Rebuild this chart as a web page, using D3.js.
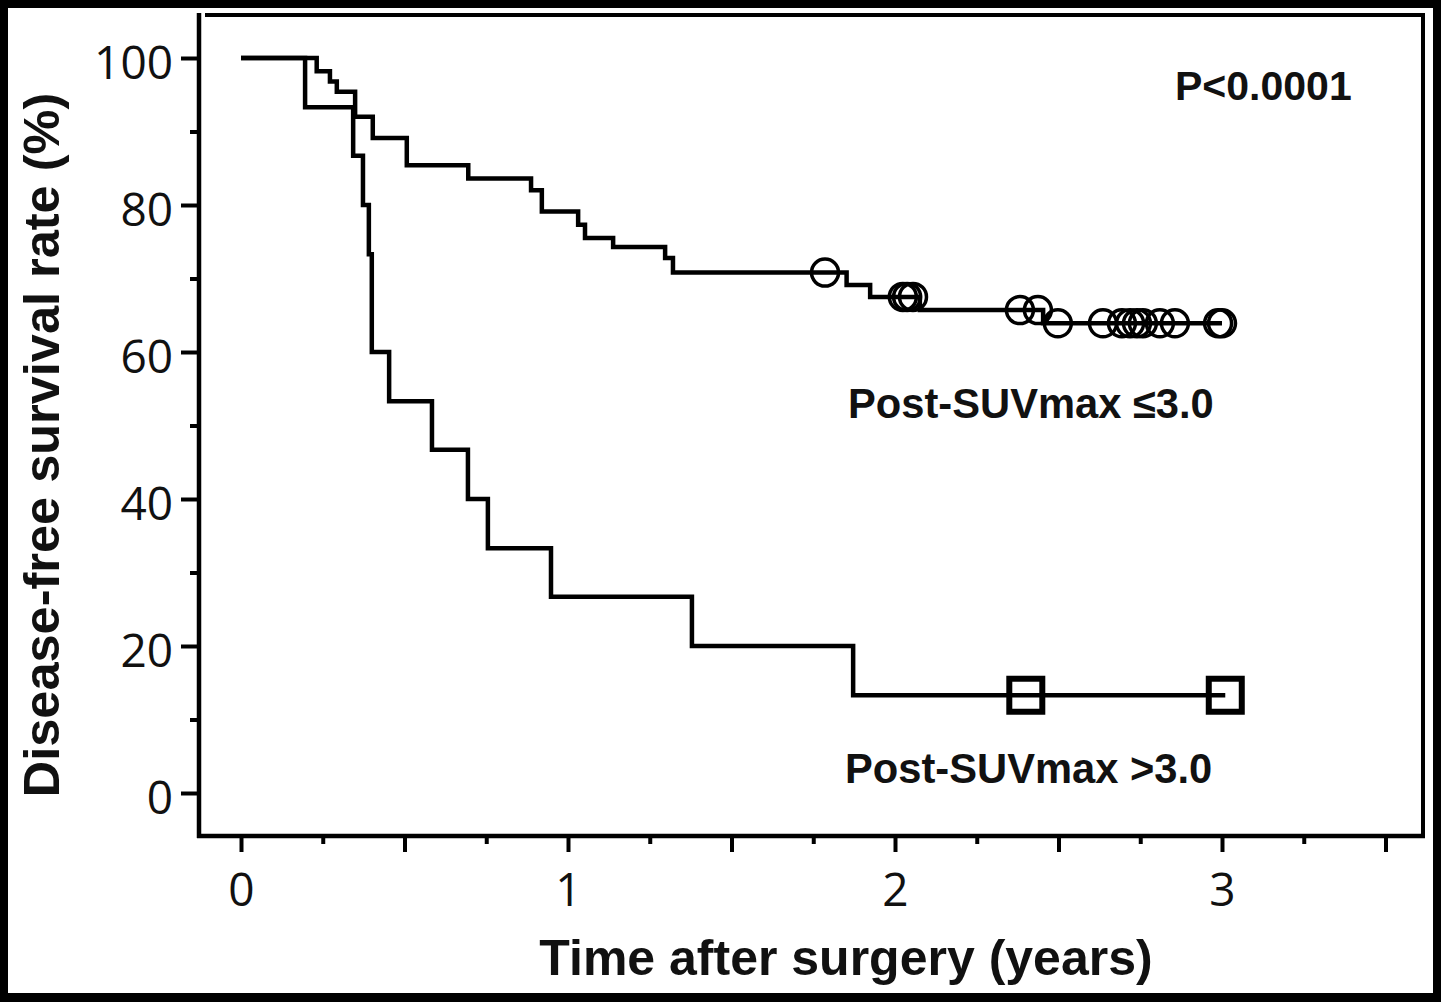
<!DOCTYPE html>
<html>
<head>
<meta charset="utf-8">
<script src="https://cdn.jsdelivr.net/npm/d3@7/dist/d3.min.js"></script>
<style>
  html, body { margin: 0; padding: 0; background: #000; }
  svg { display: block; }
</style>
</head>
<body>
<svg id="chart" width="1441" height="1002"></svg>
<script>
// ---- Data ----
// Post-SUVmax <= 3.0 : event times (years) and survival after each event (%)
const lowGroupLabel = "Post-SUVmax ≤3.0";
const upTimes = [0.2315, 0.272, 0.293, 0.349, 0.403, 0.507, 0.695, 0.887, 0.920, 1.031, 1.052, 1.138, 1.297, 1.321, 1.852, 1.924, 2.076, 2.453];
const upSurv  = [98.2, 96.8, 95.4, 92.0, 89.1, 85.4, 83.6, 82.0, 79.1, 77.3, 75.5, 74.3, 72.8, 70.8, 69.1, 67.5, 65.7, 63.9];
const upCensor = [1.786, 2.024, 2.037, 2.055, 2.382, 2.437, 2.498, 2.636, 2.694, 2.719, 2.740, 2.758, 2.810, 2.856, 2.988, 3.000];

// Post-SUVmax > 3.0
const highGroupLabel = "Post-SUVmax >3.0";
const hiTimes = [0.196, 0.343, 0.373, 0.391, 0.400, 0.453, 0.584, 0.694, 0.755, 0.948, 1.379, 1.872];
const hiSurv  = [93.3, 86.7, 80.0, 73.3, 60.0, 53.3, 46.7, 40.0, 33.3, 26.7, 20.0, 13.3];
const hiCensor = [2.40, 3.01];

const xMajorTicks = [0, 0.5, 1, 1.5, 2, 2.5, 3, 3.5];
const xMinorTicks = [0.25, 0.75, 1.25, 1.75, 2.25, 2.75, 3.25];
const xLabelTicks = [0, 1, 2, 3];
const yMajorTicks = [0, 20, 40, 60, 80, 100];
const yMinorTicks = [10, 30, 50, 70, 90];
const pValueText = "P<0.0001";
const xTitle = "Time after surgery (years)";
const yTitle = "Disease-free survival rate (%)";

// ---- Layout ----
const svg = d3.select("#chart");
svg.append("rect").attr("x", 8).attr("y", 8).attr("width", 1425).attr("height", 985).attr("fill", "#fff");

const x = d3.scaleLinear().domain([0, 3]).range([241, 1222]);
const y = d3.scaleLinear().domain([0, 100]).range([793, 58]);

const frameL = 199, frameR = 1423, frameT = 15, frameB = 836;

// Frame
const frame = svg.append("g").attr("stroke", "#000").attr("stroke-width", 4.5).attr("fill", "none");
frame.append("line").attr("x1", frameL).attr("x2", frameL).attr("y1", frameT - 2).attr("y2", frameB + 2);
frame.append("line").attr("x1", frameL - 2).attr("x2", frameR + 2).attr("y1", frameB).attr("y2", frameB);
frame.append("line").attr("x1", frameL + 6).attr("x2", frameR + 2).attr("y1", frameT).attr("y2", frameT).attr("stroke-width", 4);
frame.append("line").attr("x1", frameR).attr("x2", frameR).attr("y1", frameT - 2).attr("y2", frameB + 2).attr("stroke-width", 4);

const tickFont = "'Open Sans', 'Noto Sans', sans-serif";
const boldFont = "'Liberation Sans', Arial, sans-serif";

// X axis major ticks
const xMaj = svg.append("g").attr("transform", `translate(0,${frameB})`)
  .call(d3.axisBottom(x).tickValues(xMajorTicks).tickSize(16).tickSizeOuter(0)
    .tickFormat(d => xLabelTicks.includes(d) ? d3.format("d")(d) : ""));
xMaj.select(".domain").remove();
xMaj.selectAll(".tick line").attr("stroke", "#000").attr("stroke-width", 4);
xMaj.selectAll(".tick text").attr("y", 70).attr("dy", 0)
  .attr("font-family", tickFont).attr("font-size", 46).attr("fill", "#111");

const xMin = svg.append("g").attr("transform", `translate(0,${frameB})`)
  .call(d3.axisBottom(x).tickValues(xMinorTicks).tickSize(8).tickFormat(""));
xMin.select(".domain").remove();
xMin.selectAll(".tick line").attr("stroke", "#000").attr("stroke-width", 4);

// Y axis
const yMaj = svg.append("g").attr("transform", `translate(${frameL},0)`)
  .call(d3.axisLeft(y).tickValues(yMajorTicks).tickSize(18).tickSizeOuter(0).tickFormat(d3.format("d")));
yMaj.select(".domain").remove();
yMaj.selectAll(".tick line").attr("stroke", "#000").attr("stroke-width", 4);
yMaj.selectAll(".tick text").attr("x", -26).attr("dy", "0.45em")
  .attr("font-family", tickFont).attr("font-size", 46).attr("fill", "#111");

const yMin = svg.append("g").attr("transform", `translate(${frameL},0)`)
  .call(d3.axisLeft(y).tickValues(yMinorTicks).tickSize(9).tickFormat(""));
yMin.select(".domain").remove();
yMin.selectAll(".tick line").attr("stroke", "#000").attr("stroke-width", 4);

// ---- Survival curves ----
function stepPoints(times, surv, censor) {
  const pts = [[0, 100]];
  times.forEach((t, i) => pts.push([t, surv[i]]));
  const tEnd = Math.max(times[times.length - 1], d3.max(censor));
  pts.push([tEnd, surv[surv.length - 1]]);
  return pts;
}
function survAt(times, surv, t) {
  let s = 100;
  times.forEach((ti, i) => { if (ti <= t) s = surv[i]; });
  return s;
}
const line = d3.line().x(d => x(d[0])).y(d => y(d[1])).curve(d3.curveStepAfter);

const curves = svg.append("g").attr("fill", "none").attr("stroke", "#000").attr("stroke-width", 4.5)
  .attr("stroke-linejoin", "miter");
curves.append("path").attr("d", line(stepPoints(upTimes, upSurv, upCensor)));
curves.append("path").attr("d", line(stepPoints(hiTimes, hiSurv, hiCensor)));

// Censor marks
svg.append("g").selectAll("circle").data(upCensor).join("circle")
  .attr("cx", d => x(d)).attr("cy", d => y(survAt(upTimes, upSurv, d)))
  .attr("r", 13.5).attr("fill", "none").attr("stroke", "#000").attr("stroke-width", 3.5);

const sq = 33;
svg.append("g").selectAll("rect").data(hiCensor).join("rect")
  .attr("x", d => x(d) - sq / 2).attr("y", d => y(survAt(hiTimes, hiSurv, d)) - sq / 2)
  .attr("width", sq).attr("height", sq)
  .attr("fill", "none").attr("stroke", "#000").attr("stroke-width", 6);

// ---- Text ----
svg.append("text").attr("x", 1175).attr("y", 100).text(pValueText)
  .attr("font-family", boldFont).attr("font-weight", "bold").attr("font-size", 41).attr("fill", "#111");
svg.append("text").attr("x", 848).attr("y", 418).text(lowGroupLabel)
  .attr("font-family", boldFont).attr("font-weight", "bold").attr("font-size", 41.7).attr("fill", "#111");
svg.append("text").attr("x", 845).attr("y", 783).text(highGroupLabel)
  .attr("font-family", boldFont).attr("font-weight", "bold").attr("font-size", 41.7).attr("fill", "#111");

svg.append("text").attr("x", 846).attr("y", 975).attr("text-anchor", "middle").text(xTitle)
  .attr("font-family", boldFont).attr("font-weight", "bold").attr("font-size", 50).attr("fill", "#111");
svg.append("text").attr("transform", "translate(59,445) rotate(-90)").attr("text-anchor", "middle").text(yTitle)
  .attr("font-family", boldFont).attr("font-weight", "bold").attr("font-size", 50.5).attr("fill", "#111");
</script>
</body>
</html>
